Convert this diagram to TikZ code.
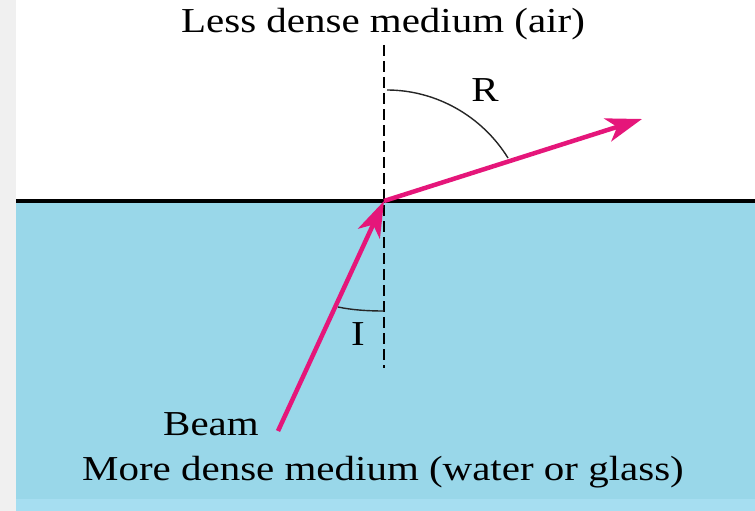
\documentclass[tikz,border=0pt]{standalone}
\usepackage{fontspec}
\setmainfont{Liberation Serif}
\usetikzlibrary{arrows.meta}
\definecolor{water}{RGB}{153,215,233}
\definecolor{waterlight}{RGB}{166,222,241}
\definecolor{beam}{RGB}{229,22,122}
\definecolor{margin}{RGB}{240,240,240}
\tikzset{
  ray/.style={draw=beam, line width=4.5pt, -{Stealth[length=36pt,width=24pt,inset=10pt]}},
  normal/.style={draw=black, line width=2.4pt, dash pattern=on 11pt off 5pt},
  anglearc/.style={draw=black!85, line width=1.4pt},
  lbl/.style={inner sep=0pt, anchor=base, font=\fontsize{35}{35}\selectfont},
}
\newcommand{\wide}[1]{\scalebox{1.17}[1]{#1}}
\begin{document}
\begin{tikzpicture}[x=1pt,y=-1pt]
\useasboundingbox (0,0) rectangle (755,511);
\fill[white] (0,0) rectangle (755,511);
\fill[margin] (0,0) rectangle (16,511);
\fill[water] (16,201) rectangle (755,511);
\fill[waterlight] (16,499) rectangle (755,511);
\draw[line width=3.2pt] (16,201) -- (755,201);

\coordinate (O) at (384,201);
\coordinate (ntop) at (384,45);
\coordinate (nbot) at (384,368);
\coordinate (start) at (278,431);
\coordinate (tip) at (642,119);

\draw[normal] (ntop) -- (nbot);

% angle arcs
\draw[anglearc] (387,90) .. controls (436,90) and (482,116) .. (508,158);
\draw[anglearc] (338,307) .. controls (352,310) and (368,311) .. (384,311);

\draw[ray] (start) -- (O);
\draw[ray] (O) -- (tip);

\node[lbl] (air) at (383,33) {\wide{Less dense medium (air)}};
\node[lbl] (beamlbl) at (211,435) {\wide{Beam}};
\node[lbl] (dense) at (383,480) {\wide{More dense medium (water or glass)}};
\node[lbl] (R) at (485,102) {\wide{R}};
\node[lbl] (I) at (358,345) {\wide{I}};
\end{tikzpicture}
\end{document}
